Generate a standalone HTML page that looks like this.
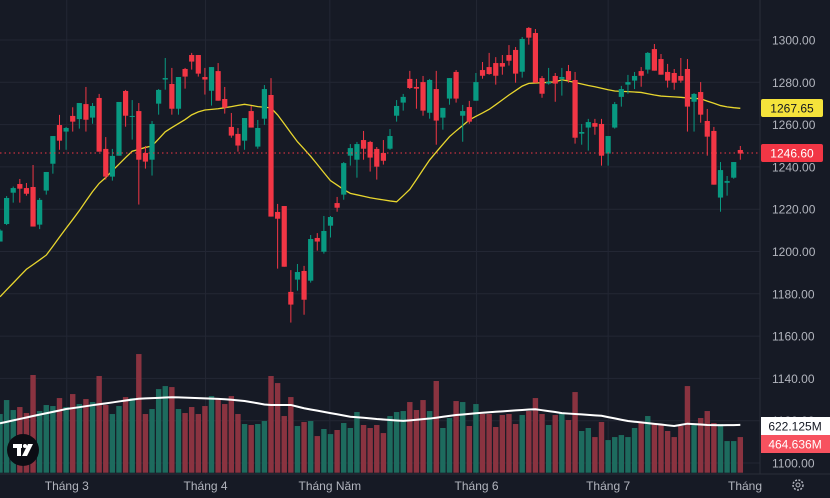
<!DOCTYPE html>
<html><head><meta charset="utf-8"><style>
html,body{margin:0;padding:0;background:#161a25;}
svg{display:block;font-family:"Liberation Sans",sans-serif;}
</style></head><body>
<svg id="chart" width="830" height="498" viewBox="0 0 830 498" xmlns="http://www.w3.org/2000/svg">
<rect x="0" y="0" width="830" height="498" fill="#161a25"/>
<defs><clipPath id="plot"><rect x="0" y="0" width="760" height="474"/></clipPath></defs>
<g id="grid"></g>
<g id="vol" clip-path="url(#plot)"></g>
<g id="volma" clip-path="url(#plot)"></g>
<g id="ma" clip-path="url(#plot)"></g>
<g id="candles" clip-path="url(#plot)"></g>
<line x1="0" x2="760" y1="153" y2="153" stroke="#f23645" stroke-width="1" stroke-dasharray="1.5,3"/>
<line x1="760" x2="760" y1="0" y2="474" stroke="#2a2e39"/>
<line x1="0" x2="830" y1="474" y2="474" stroke="#2a2e39"/>
<g id="yaxis"></g>
<g id="xaxis"></g>
<g><rect x="761" y="99" width="62" height="18" rx="2" fill="#f5e33b"/><text x="792" y="112.5" text-anchor="middle" font-size="12" fill="#131722">1267.65</text></g>
<g><rect x="761" y="144" width="62" height="18" rx="2" fill="#f23645"/><text x="792" y="157.5" text-anchor="middle" font-size="12" fill="#ffffff">1246.60</text></g>
<g><rect x="761" y="417" width="69" height="18" fill="#ffffff"/><text x="795" y="430.5" text-anchor="middle" font-size="12" fill="#131722">622.125M</text></g>
<g><rect x="761" y="435" width="69" height="18" fill="#f7525f"/><text x="795" y="448.5" text-anchor="middle" font-size="12" fill="#ffffff">464.636M</text></g>
<g><circle cx="23" cy="450" r="16" fill="#0b0d14"/><rect x="13" y="444" width="9" height="4" fill="#fff"/><rect x="17" y="444" width="4" height="12" fill="#fff"/><circle cx="25" cy="446" r="2" fill="#fff"/><polygon points="28,444 33,444 27,456 22,456" fill="#fff"/></g>
<g><circle cx="798" cy="485" r="5" fill="none" stroke="#b2b5be" stroke-width="1.5" stroke-dasharray="2,1.4"/><circle cx="798" cy="485" r="2" fill="none" stroke="#b2b5be" stroke-width="1"/></g>
</svg>
<script>
const opens=[1204.7,1213.0,1227.8,1231.9,1230.0,1230.5,1212.7,1228.8,1241.5,1259.8,1256.7,1264.1,1262.6,1269.7,1263.3,1272.6,1248.5,1235.4,1245.3,1275.9,1263.6,1266.4,1246.6,1243.4,1269.9,1281.3,1279.2,1267.5,1286.3,1292.9,1292.9,1282.5,1276.0,1285.3,1272.1,1258.9,1255.6,1252.4,1266.4,1249.6,1262.8,1274.0,1218.7,1221.5,1180.9,1186.7,1190.8,1186.2,1206.4,1199.9,1212.2,1222.9,1226.9,1245.3,1243.4,1252.7,1251.8,1248.5,1246.6,1248.6,1264.2,1270.4,1281.6,1277.8,1280.1,1265.6,1276.8,1263.3,1272.3,1284.9,1264.2,1268.3,1271.3,1285.8,1287.2,1289.1,1289.1,1292.9,1295.3,1285.0,1305.7,1303.3,1282.0,1279.4,1283.0,1281.6,1285.3,1281.1,1255.7,1258.6,1260.7,1260.3,1246.3,1258.6,1273.1,1278.9,1280.8,1285.3,1286.0,1295.7,1291.0,1284.9,1284.4,1283.0,1286.3,1270.8,1275.4,1261.7,1257.0,1225.5,1232.5,1234.9,1248.0];
const highs=[1210.5,1226.2,1230.7,1234.3,1232.4,1240.9,1225.3,1237.6,1254.6,1264.6,1258.9,1268.2,1270.2,1277.8,1270.2,1274.5,1254.1,1248.5,1270.7,1276.4,1271.6,1270.2,1249.9,1261.7,1276.8,1291.5,1286.8,1282.5,1286.8,1293.9,1292.9,1286.8,1287.2,1289.1,1277.8,1265.5,1258.4,1263.1,1268.8,1262.2,1278.7,1282.0,1222.5,1221.5,1191.2,1194.1,1193.2,1207.8,1208.7,1216.8,1216.8,1225.8,1242.3,1250.8,1251.8,1257.0,1252.3,1249.4,1252.7,1257.9,1271.6,1274.5,1285.4,1281.6,1283.0,1281.6,1285.4,1267.9,1282.0,1285.8,1269.3,1271.2,1284.4,1289.6,1293.9,1291.9,1292.9,1297.6,1296.7,1301.4,1306.1,1305.2,1283.0,1286.8,1284.4,1286.8,1288.2,1284.9,1260.3,1262.7,1262.7,1262.7,1254.6,1270.7,1278.3,1283.5,1284.9,1287.2,1294.3,1298.1,1293.4,1288.7,1286.3,1291.5,1291.0,1274.9,1280.1,1267.4,1258.9,1242.3,1235.7,1242.3,1249.9];
const lows=[1204.7,1212.5,1223.1,1223.1,1226.4,1211.8,1210.6,1226.9,1236.8,1248.1,1248.1,1256.7,1258.1,1256.7,1260.4,1247.2,1234.0,1233.5,1245.3,1259.0,1252.9,1222.2,1239.2,1235.9,1264.7,1276.5,1264.7,1264.7,1277.0,1286.0,1282.7,1274.2,1269.0,1271.3,1265.2,1253.8,1247.2,1248.1,1258.6,1248.6,1259.9,1216.5,1191.9,1192.8,1166.4,1181.5,1170.1,1185.3,1200.4,1199.0,1206.6,1218.8,1224.5,1240.6,1234.9,1243.4,1237.8,1234.0,1241.1,1248.1,1261.4,1266.6,1276.8,1267.5,1264.2,1262.8,1250.5,1257.6,1269.4,1270.4,1251.9,1260.4,1271.3,1281.7,1283.6,1278.9,1283.6,1287.9,1279.8,1282.2,1297.8,1279.8,1272.7,1278.9,1270.8,1273.7,1279.8,1251.0,1250.5,1247.7,1255.2,1240.6,1240.6,1258.1,1268.5,1274.6,1276.8,1277.9,1284.1,1285.5,1283.6,1277.5,1276.5,1279.8,1256.7,1256.7,1260.9,1245.3,1231.6,1218.8,1226.4,1234.4,1243.4];
const closes=[1209.9,1225.3,1230.0,1229.7,1227.3,1211.8,1224.4,1237.6,1254.6,1252.4,1258.4,1261.4,1270.2,1262.3,1268.8,1247.2,1235.4,1245.2,1270.7,1264.2,1264.1,1243.4,1242.5,1260.3,1276.4,1282.0,1267.5,1282.5,1282.7,1289.8,1284.1,1281.3,1287.2,1271.3,1268.0,1254.8,1250.1,1263.1,1258.6,1258.4,1276.8,1216.5,1215.5,1192.8,1174.9,1190.3,1177.2,1205.9,1204.7,1209.7,1216.3,1220.7,1241.8,1248.9,1250.8,1248.6,1244.4,1240.1,1242.9,1254.6,1268.8,1273.1,1277.3,1277.0,1266.6,1281.1,1261.9,1267.9,1282.0,1272.3,1266.4,1261.4,1280.1,1283.1,1283.9,1283.1,1287.4,1290.2,1284.1,1300.5,1301.1,1279.8,1274.6,1280.1,1279.4,1282.5,1281.1,1253.8,1256.5,1261.2,1259.0,1245.3,1254.6,1269.7,1276.8,1280.1,1283.0,1283.1,1293.9,1285.5,1283.6,1280.8,1279.8,1280.8,1268.5,1274.5,1264.7,1254.3,1231.6,1238.5,1233.3,1242.3,1246.3];
const maValues=[1178.6,1181.9,1185.1,1188.4,1191.6,1193.8,1196.0,1198.3,1202.5,1206.8,1211.0,1215.1,1219.3,1223.9,1228.3,1232.2,1235.0,1238.2,1241.3,1244.4,1247.4,1248.3,1249.2,1249.9,1253.2,1256.6,1258.6,1260.5,1262.4,1264.6,1266.0,1266.9,1267.2,1267.5,1268.0,1268.5,1269.1,1269.6,1269.1,1268.5,1268.2,1267.9,1264.6,1260.4,1256.1,1251.9,1248.5,1245.0,1241.2,1237.3,1233.5,1231.4,1229.3,1227.5,1226.8,1226.1,1225.4,1224.9,1224.4,1223.9,1223.5,1226.4,1229.4,1234.0,1238.7,1243.3,1247.0,1250.7,1254.3,1257.0,1259.6,1262.2,1263.9,1265.5,1267.2,1269.4,1271.7,1274.0,1276.1,1278.2,1279.5,1279.7,1279.8,1280.0,1280.2,1281.2,1280.6,1279.9,1279.2,1278.5,1277.9,1277.2,1276.5,1275.9,1275.7,1275.6,1275.4,1275.2,1274.6,1274.0,1273.5,1273.3,1273.1,1272.9,1272.6,1272.4,1272.2,1271.1,1270.1,1269.0,1268.4,1268.0,1267.7];
const volumes=[764,946,816,855,777,1272,803,881,868,972,855,1024,894,959,920,1259,881,764,868,985,972,1545,764,829,1089,1128,1115,829,777,855,764,868,998,959,894,998,764,634,621,634,673,1259,1167,738,985,608,660,673,477,569,503,556,647,582,790,621,582,621,516,738,790,803,920,816,946,803,1194,582,712,933,920,608,894,764,764,595,751,764,634,751,803,972,764,621,751,777,686,1050,543,582,464,660,425,464,490,464,582,660,738,634,621,543,464,608,1128,621,712,803,647,634,412,412,464];
const volMA=[643,662,681,700,719,738,756,774,792,810,829,841,853,866,879,891,903,915,928,940,952,963,967,971,975,979,982,980,977,974,971,968,965,962,957,950,942,934,919,904,888,882,882,882,882,860,839,823,808,792,776,761,745,729,722,715,708,699,693,686,680,675,682,690,698,705,716,728,740,751,758,766,774,781,787,793,799,805,811,817,823,826,814,802,790,776,770,764,759,753,747,741,724,707,690,673,664,655,645,636,627,617,608,623,638,632,627,621,619,618,619,620,622];
const priceTicks=[1100,1120,1140,1160,1180,1200,1220,1240,1260,1280,1300];
const monthLabels=["Tháng 3","Tháng 4","Tháng Năm","Tháng 6","Tháng 7","Tháng"];
const monthIndex=[10.1,31.1,49.9,72.1,92.0,112.3];

const NS="http://www.w3.org/2000/svg";
const STEP=6.61;
function xOf(i){return i*STEP;}
function yOf(p){return 40+(1300-p)*2.115;}
function vOf(v){return 472.7-v*0.0768;}
function mk(tag,attrs,parent){const e=document.createElementNS(NS,tag);for(const k in attrs)e.setAttribute(k,attrs[k]);parent.appendChild(e);return e;}
const G=id=>document.getElementById(id);

// grid
priceTicks.forEach(p=>{
  const l=mk('line',{x1:0,x2:760,y1:yOf(p),y2:yOf(p),stroke:'#232734','stroke-width':1},G('grid'));
  
  
  const t=mk('text',{x:772,y:yOf(p)+4.5,'font-size':12,fill:'#b2b5be'},G('yaxis'));
  t.textContent=p.toFixed(2);
  
  
});
monthLabels.forEach((m,k)=>{
  const x=xOf(monthIndex[k]);
  if(k<monthLabels.length-1){
    const l=mk('line',{x1:x,x2:x,y1:0,y2:474,stroke:'#232734','stroke-width':1},G('grid'));
    
    
  }
  const t=mk('text',{x:k<monthLabels.length-1?x:728,y:490,'font-size':12,fill:'#b2b5be','text-anchor':k<monthLabels.length-1?'middle':'start'},G('xaxis'));
  t.textContent=m;
  
  
});

// volume
volumes.forEach((v,i)=>{
  const up=closes[i]>=opens[i];
  const r=mk('rect',{x:xOf(i)-2.7,y:vOf(v),width:5.4,height:472.7-vOf(v),fill:up?'#1d6b5e':'#8a3340'},G('vol'));
  
  
});
const vp=mk('polyline',{points:volMA.map((v,i)=>xOf(i)+','+vOf(v)).join(' '),fill:'none',stroke:'#ffffff','stroke-width':2},G('volma'));



// MA
const mp=mk('polyline',{points:maValues.map((v,i)=>xOf(i)+','+yOf(v)).join(' '),fill:'none',stroke:'#e8d62e','stroke-width':1.3},G('ma'));



// candles
opens.forEach((o,i)=>{
  const c=closes[i],up=c>=o,col=up?'#089981':'#f23645',x=xOf(i);
  const g=mk('g',{},G('candles'));
  
  
  mk('line',{x1:x,x2:x,y1:yOf(highs[i]),y2:yOf(lows[i]),stroke:col,'stroke-width':1},g);
  const top=yOf(Math.max(o,c)),bot=yOf(Math.min(o,c));
  mk('rect',{x:x-2.6,y:top,width:5.2,height:Math.max(1,bot-top),fill:col},g);
});
</script>
</body></html>
